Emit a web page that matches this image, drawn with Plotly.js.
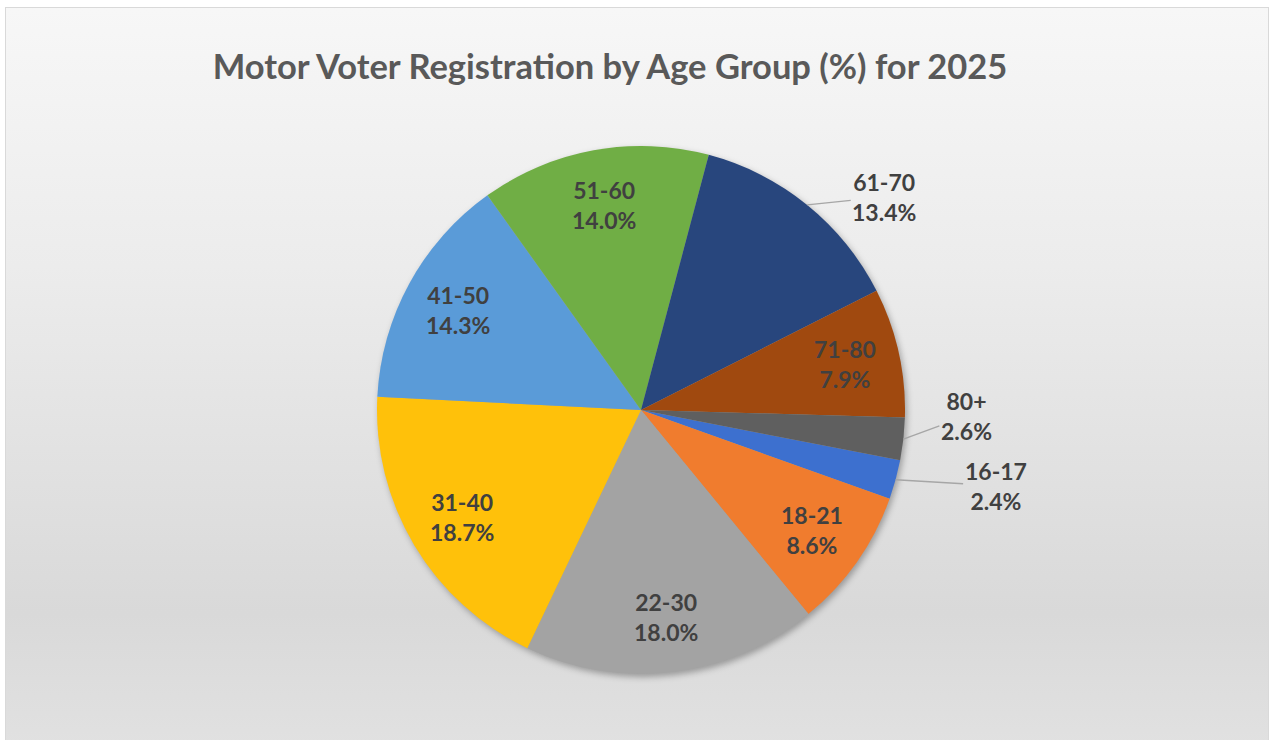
<!DOCTYPE html>
<html>
<head>
<meta charset="utf-8">
<script src="https://cdn.plot.ly/plotly-3.0.1.min.js"></script>
<style>
  html, body { margin: 0; padding: 0; background: #ffffff; }
  #frame {
    position: absolute; left: 5px; top: 7px; width: 1264px; height: 740px;
    border: 1px solid #d9d9d9; box-sizing: border-box;
    background: linear-gradient(to bottom, #f7f7f7 0%, #ececec 35%, #d9d9d9 82%, #e1e1e1 100%);
  }
  #chart { position: absolute; left: 0; top: 0; width: 1274px; height: 740px; }
  #chart .pielayer { filter: drop-shadow(2px 3px 3px rgba(0,0,0,0.30)); }
</style>
</head>
<body>
<div id="frame"></div>
<div id="chart"></div>
<script>
const ageGroups = ["16-17", "18-21", "22-30", "31-40", "41-50", "51-60", "61-70", "71-80", "80+"];
const sharePct  = [2.4, 8.6, 18.0, 18.7, 14.3, 14.0, 13.4, 7.9, 2.6];
const sliceColors = ["#3d70cf", "#f07c2e", "#a3a3a3", "#ffc10a", "#5a9bd8", "#70ae45", "#28467d", "#a0490f", "#5f5f5f"];
// label style: inside the slice, or outside with a leader line (pixel offset of the text from the slice edge)
const outsideLabelOffset = { "61-70": [77, -8], "80+": [63, -23], "16-17": [100, 6] };

const W = 1274, H = 740;
const cx = 641, cy = 410, r = 264;
const rotation = 101;
const insideRadius = 0.79;
const fontFam = "Lato, 'Open Sans', sans-serif";

const trace = {
  type: "pie",
  labels: ageGroups,
  values: sharePct,
  sort: false,
  direction: "clockwise",
  rotation: rotation,
  marker: { colors: sliceColors, line: { width: 0 } },
  textinfo: "none",
  hoverinfo: "label+value",
  showlegend: false,
  domain: { x: [(cx - r) / W, (cx + r) / W], y: [(H - cy - r) / H, (H - cy + r) / H] }
};

// data labels placed along each slice's mid-angle (derived from the values)
const total = sharePct.reduce((a, b) => a + b, 0);
let cum = 0;
const annotations = [];
ageGroups.forEach((g, i) => {
  const v = sharePct[i];
  const mid = (rotation + (cum + v / 2) / total * 360) * Math.PI / 180;
  cum += v;
  const txt = g + "<br>" + v.toFixed(1) + "%";
  const font = { family: fontFam, size: 23, color: "#404040", weight: "bold" };
  if (outsideLabelOffset[g]) {
    const ex = cx + r * Math.sin(mid), ey = cy - r * Math.cos(mid);
    const off = outsideLabelOffset[g];
    annotations.push({
      text: txt, font: font, xref: "paper", yref: "paper",
      x: ex / W, y: 1 - ey / H,
      showarrow: true, arrowhead: 0, arrowwidth: 1.4, arrowcolor: "#a6a6a6",
      ax: off[0], ay: off[1], standoff: 0, startstandoff: 0
    });
  } else {
    const px = cx + insideRadius * r * Math.sin(mid), py = cy - insideRadius * r * Math.cos(mid);
    annotations.push({
      text: txt, font: font, xref: "paper", yref: "paper",
      x: px / W, y: 1 - py / H, xanchor: "center", yanchor: "middle", showarrow: false
    });
  }
});

const layout = {
  width: W, height: H,
  margin: { l: 0, r: 0, t: 0, b: 0 },
  paper_bgcolor: "rgba(0,0,0,0)",
  plot_bgcolor: "rgba(0,0,0,0)",
  showlegend: false,
  annotations: annotations,
  title: {
    text: "Motor Voter Registration by Age Group (%) for 2025",
    font: { family: fontFam, size: 34.5, color: "#595959", weight: "bold" },
    x: 610 / W, xanchor: "center", xref: "paper",
    y: 1 - 67 / H, yanchor: "middle", yref: "paper"
  }
};

Plotly.newPlot("chart", [trace], layout, { displayModeBar: false, staticPlot: true });
</script>
</body>
</html>
